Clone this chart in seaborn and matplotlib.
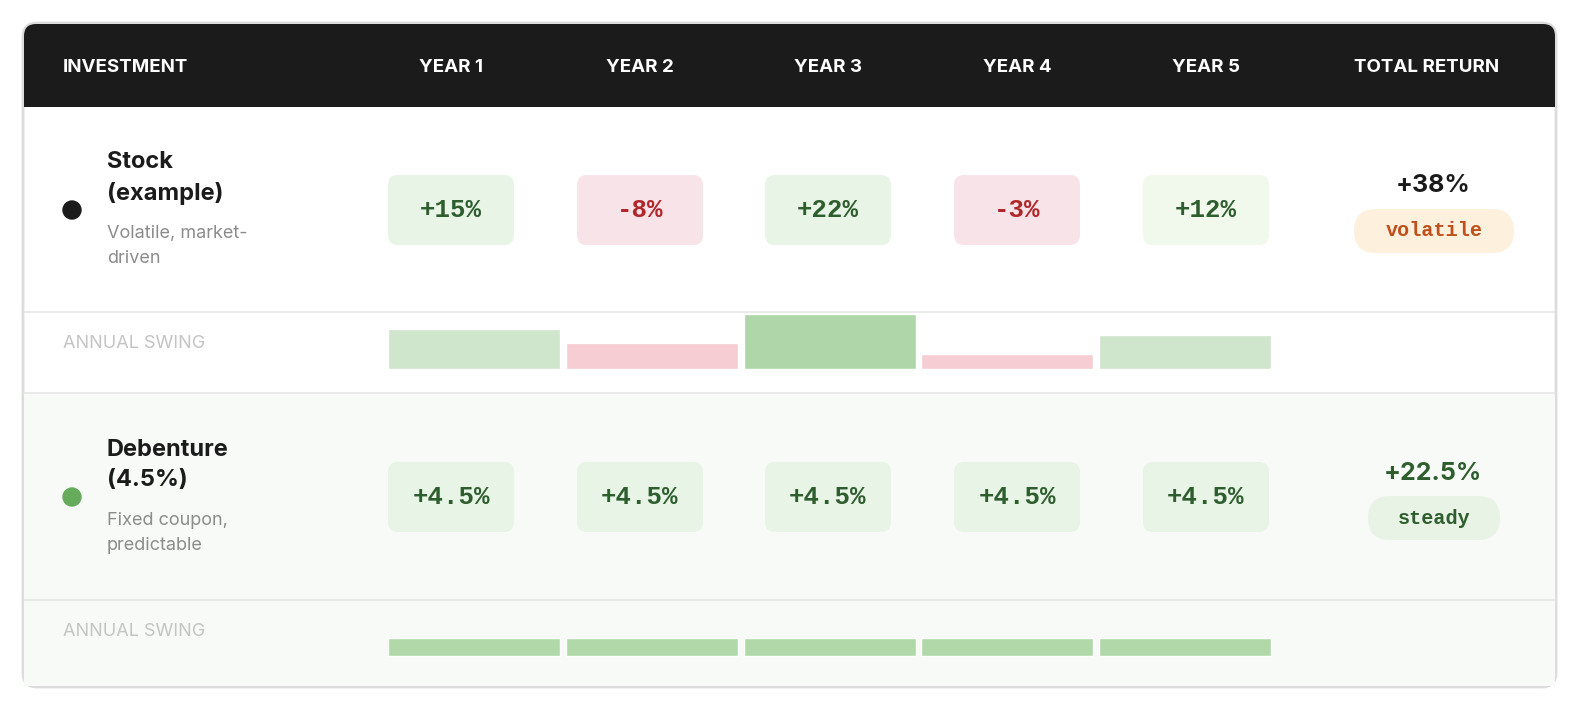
import matplotlib
matplotlib.use("Agg")
import matplotlib.pyplot as plt
import seaborn as sns
from matplotlib.patches import FancyBboxPatch, Rectangle, Circle

sns.set_theme(style="white")
plt.rcParams['font.family'] = ['Inter', 'DejaVu Sans']

# data
columns = ["YEAR 1", "YEAR 2", "YEAR 3", "YEAR 4", "YEAR 5"]
investments = ["Stock\n(example)", "Debenture\n(4.5%)"]
subtitles = ["Volatile, market-\ndriven", "Fixed coupon,\npredictable"]
returns = [[15, -8, 22, -3, 12], [4.5, 4.5, 4.5, 4.5, 4.5]]
totals = ["+38%", "+22.5%"]
badges = ["volatile", "steady"]

W, H = 1592, 701
fig = plt.figure(figsize=(W / 100, H / 100), dpi=100)
ax = fig.add_axes([0, 0, 1, 1])
ax.set_xlim(0, W)
ax.set_ylim(H, 0)
ax.axis("off")

# card
ax.add_patch(FancyBboxPatch((23, 23), 1533, 664, boxstyle="round,pad=0,rounding_size=14",
                            fc="white", ec="#dcdcdc", lw=2, zorder=0))
ax.add_patch(FancyBboxPatch((24, 24), 1531, 83, boxstyle="round,pad=0,rounding_size=12",
                            fc="#1b1b1b", ec="none", zorder=1))
ax.add_patch(Rectangle((24, 80), 1531, 27, fc="#1b1b1b", ec="none", zorder=1))
ax.add_patch(Rectangle((24, 394), 1531, 292, fc="#f7faf6", ec="none", zorder=0.5))
for y in (312, 393, 600):
    ax.plot([24, 1555], [y, y], color="#e6e6e6", lw=1.2, zorder=1)

col_x = [451, 640, 828, 1017, 1206]
ax.text(63, 67, "INVESTMENT", color="white", fontsize=13.5, fontweight="bold", va="center", zorder=2)
for x, c in zip(col_x, columns):
    ax.text(x, 67, c, color="white", fontsize=13.5, fontweight="bold", ha="center", va="center", zorder=2)
ax.text(1427, 67, "TOTAL RETURN", color="white", fontsize=13.5, fontweight="bold", ha="center", va="center", zorder=2)

row_top = [107, 394]
dot_colors = ["#1b1b1b", "#66aa5c"]
total_colors = ["#1b1b1b", "#2e5e2e"]
badge_bg = ["#fdf0dc", "#e8f3e6"]
badge_fg = ["#c0501a", "#2e5e2e"]
badge_w = [160, 132]
bar_colors = [["#cfe6cc", "#f6cdd2", "#afd6a8", "#f6cdd2", "#cfe6cc"],
              ["#b0d8a8"] * 5]
pill_green = ["#e8f4e6", "#e8f4e6", "#e8f4e6", "#e8f4e6", "#f1f8ec"]

for r, top in enumerate(row_top):
    cy = top + 103
    ax.add_patch(Circle((72, cy), 9, color=dot_colors[r], zorder=2))
    ax.text(107, cy - 32, investments[r], fontsize=17, fontweight="bold", color="#1b1b1b",
            va="center", linespacing=1.45, zorder=2)
    ax.text(107, cy + 36, subtitles[r], fontsize=13, color="#8c8c8c", va="center",
            linespacing=1.55, zorder=2)
    for i, (x, v) in enumerate(zip(col_x, returns[r])):
        pos = v >= 0
        bg = (pill_green[i] if r == 0 else "#e8f4e6") if pos else "#f8e4e8"
        fg = "#2e5e2e" if pos else "#b0262a"
        ax.add_patch(FancyBboxPatch((x - 63, cy - 35), 126, 70,
                                    boxstyle="round,pad=0,rounding_size=10", fc=bg, ec="none", zorder=2))
        txt = f"{v:+g}%"
        ax.text(x, cy, txt, fontsize=18.5, fontweight="bold", color=fg, ha="center", va="center",
                family="Liberation Mono", zorder=3)
    ax.text(1433, cy - 24, totals[r], fontsize=18, fontweight="bold", color=total_colors[r],
            ha="center", va="center", zorder=3)
    bw = badge_w[r]
    ax.add_patch(FancyBboxPatch((1434 - bw / 2, cy - 1), bw, 44,
                                boxstyle="round,pad=0,rounding_size=22", fc=badge_bg[r], ec="none", zorder=2))
    ax.text(1434, cy + 21, badges[r], fontsize=14.5, fontweight="bold", color=badge_fg[r],
            ha="center", va="center", family="Liberation Mono", zorder=3)

    # annual swing bars
    swing_y = top + 237
    base = top + 262
    ax.text(63, swing_y, "ANNUAL SWING", fontsize=13, color="#c4c4c4", va="center", zorder=2)
    heights = [9 + 2.1 * abs(v) for v in returns[r]]
    bar_x = [474, 652, 830, 1007, 1185]
    ax.bar(bar_x, [-h for h in heights], width=172, bottom=base, color=bar_colors[r],
           align="center", zorder=2)

fig.savefig("out.png", dpi=100)
